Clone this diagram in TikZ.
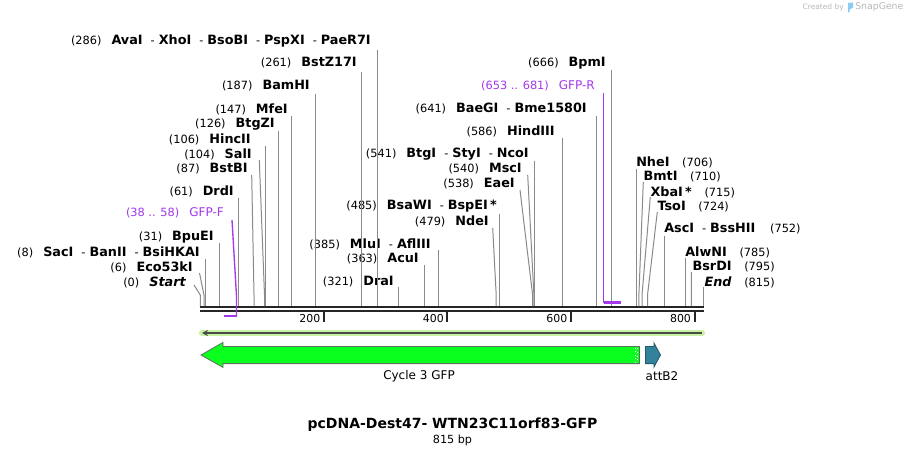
\documentclass[tikz,border=0pt]{standalone}
\usepackage{fontspec}
\setmainfont{DejaVu Sans}
\usetikzlibrary{arrows.meta,calc}
\definecolor{sitegray}{HTML}{8A8A8A}
\definecolor{barblack}{HTML}{262626}
\definecolor{primerviolet}{HTML}{A338EC}
\definecolor{glowgreen}{HTML}{C8F2A2}
\definecolor{strandgray}{HTML}{4A4A4A}
\definecolor{gfpgreen}{HTML}{0AFF1E}
\definecolor{gfpedge}{HTML}{5E705E}
\definecolor{attteal}{HTML}{31829A}
\definecolor{attedge}{HTML}{24596B}
\definecolor{creditgray}{HTML}{B8B8B8}
\definecolor{logoblue}{HTML}{8CCBF2}

\newcommand{\pos}[1]{{\fontsize{8.5}{9}\selectfont(#1)}}
\newcommand{\enz}[1]{{\fontsize{9.6}{11}\selectfont\bfseries #1}}
\newcommand{\oligoname}[1]{{\fontsize{9}{10}\selectfont #1}}
\newcommand{\numgap}{\hspace{7.5pt}}
\newcommand{\sitesep}{\hspace{6pt}{\fontsize{8.5}{9}\selectfont -}\hspace{3pt}}

\begin{document}
\begin{tikzpicture}[
		x=0.75pt, y=-0.75pt,
		>=Stealth,
		lbl/.style={inner sep=0pt, anchor=east},
		rlbl/.style={inner sep=0pt, anchor=west},
		oligo/.style={inner sep=0pt, anchor=east, text=primerviolet},
		cut/.style={draw=sitegray, line width=0.75pt},
		primer/.style={draw=primerviolet, line width=1pt},
		tick/.style={draw=barblack, line width=1.5pt},
		ticklbl/.style={inner sep=0pt, anchor=east, font=\fontsize{8.2}{9}\selectfont},
	]

	\fill[white] (0,0) rectangle (906,456);
	\useasboundingbox (0,0) rectangle (906,456);

	% sequence map
	\coordinate (mapstart) at (200.3,306);
	\coordinate (mapend) at (703.7,306);
	\draw[barblack, line width=1.9pt] ([shift={(0,1.2)}]mapstart) -- ([shift={(0,1.2)}]mapend);
	\draw[barblack, line width=1.9pt] ([shift={(0,5.2)}]mapstart) -- ([shift={(0,5.2)}]mapend);

	\draw[tick] (323.8,312) -- (323.8,322);
	\draw[tick] (447.4,312) -- (447.4,322);
	\draw[tick] (570.9,312) -- (570.9,322);
	\draw[tick] (694.5,312) -- (694.5,322);
	\node[ticklbl] (t200) at (320.5,318.5) {200};
	\node[ticklbl] (t400) at (444.1,318.5) {400};
	\node[ticklbl] (t600) at (567.6,318.5) {600};
	\node[ticklbl] (t800) at (691.2,318.5) {800};

	% cut sites on the map
	\coordinate (c0) at (200.3,306);
	\coordinate (c6) at (204.0,306);
	\coordinate (c8) at (205.2,306);
	\coordinate (c31) at (219.5,306);
	\coordinate (c61) at (238.0,306);
	\coordinate (c87) at (254.0,306);
	\coordinate (c104) at (264.5,306);
	\coordinate (c106) at (265.8,306);
	\coordinate (c126) at (278.1,306);
	\coordinate (c147) at (291.1,306);
	\coordinate (c187) at (315.8,306);
	\coordinate (c261) at (361.5,306);
	\coordinate (c286) at (377.0,306);
	\coordinate (c321) at (398.6,306);
	\coordinate (c363) at (424.5,306);
	\coordinate (c385) at (438.1,306);
	\coordinate (c479) at (496.2,306);
	\coordinate (c485) at (499.9,306);
	\coordinate (c538) at (532.6,306);
	\coordinate (c540) at (533.9,306);
	\coordinate (c541) at (534.5,306);
	\coordinate (c586) at (562.3,306);
	\coordinate (c641) at (596.2,306);
	\coordinate (c666) at (611.7,306);
	\coordinate (c706) at (636.4,306);
	\coordinate (c710) at (638.9,306);
	\coordinate (c715) at (642.0,306);
	\coordinate (c724) at (647.5,306);
	\coordinate (c752) at (664.8,306);
	\coordinate (c785) at (685.2,306);
	\coordinate (c795) at (691.4,306);
	\coordinate (c815) at (703.7,306);

	% left labels
	\node[lbl] (start) at (186,282) {\pos{0}\numgap\enz{\itshape Start}};
	\node[lbl] (eco53ki) at (193,267) {\pos{6}\numgap\enz{Eco53kI}};
	\node[lbl] (saci) at (200,252) {\pos{8}\numgap\enz{SacI}\sitesep\enz{BanII}\sitesep\enz{BsiHKAI}};
	\node[lbl] (bpuei) at (214,237) {\pos{31}\numgap\enz{BpuEI}};
	\node[oligo] (gfpf) at (224,213) {\pos{38 .. 58}\numgap\oligoname{GFP-F}};
	\node[lbl] (drdi) at (234,191) {\pos{61}\numgap\enz{DrdI}};
	\node[lbl] (bstbi) at (248,169) {\pos{87}\numgap\enz{BstBI}};
	\node[lbl] (sali) at (252,154) {\pos{104}\numgap\enz{SalI}};
	\node[lbl] (hincii) at (251,139) {\pos{106}\numgap\enz{HincII}};
	\node[lbl] (btgzi) at (275,124) {\pos{126}\numgap\enz{BtgZI}};
	\node[lbl] (mfei) at (288,109) {\pos{147}\numgap\enz{MfeI}};
	\node[lbl] (bamhi) at (310,86) {\pos{187}\numgap\enz{BamHI}};
	\node[lbl] (bstz17i) at (357,63) {\pos{261}\numgap\enz{BstZ17I}};
	\node[lbl] (avai) at (371,41) {\pos{286}\numgap\enz{AvaI}\sitesep\enz{XhoI}\sitesep\enz{BsoBI}\sitesep\enz{PspXI}\sitesep\enz{PaeR7I}};

	% middle labels
	\node[lbl] (drai) at (394,282) {\pos{321}\numgap\enz{DraI}};
	\node[lbl] (acui) at (419,259) {\pos{363}\numgap\enz{AcuI}};
	\node[lbl] (mlui) at (431,244) {\pos{385}\numgap\enz{MluI}\sitesep\enz{AflIII}};
	\node[lbl] (ndei) at (489,221) {\pos{479}\numgap\enz{NdeI}};
	\node[lbl] (bsawi) at (497,206) {\pos{485}\numgap\enz{BsaWI}\sitesep\enz{BspEI\,*}};
	\node[lbl] (eaei) at (515,184) {\pos{538}\numgap\enz{EaeI}};
	\node[lbl] (msci) at (522,169) {\pos{540}\numgap\enz{MscI}};
	\node[lbl] (btgi) at (529,154) {\pos{541}\numgap\enz{BtgI}\sitesep\enz{StyI}\sitesep\enz{NcoI}};
	\node[lbl] (hindiii) at (555,131) {\pos{586}\numgap\enz{HindIII}};
	\node[lbl] (baegi) at (587,108) {\pos{641}\numgap\enz{BaeGI}\sitesep\enz{Bme1580I}};
	\node[oligo] (gfpr) at (595,86) {\pos{653 .. 681}\numgap\oligoname{GFP-R}};
	\node[lbl] (bpmi) at (606,63) {\pos{666}\numgap\enz{BpmI}};

	% right labels
	\node[rlbl] (nhei) at (636,162) {\enz{NheI}\hspace{9.5pt}\pos{706}};
	\node[rlbl] (bmti) at (643.3,177) {\enz{BmtI}\hspace{9.5pt}\pos{710}};
	\node[rlbl] (xbai) at (650.3,192) {\enz{XbaI\,*}\hspace{9.5pt}\pos{715}};
	\node[rlbl] (tsoi) at (657.3,207) {\enz{TsoI}\hspace{9.5pt}\pos{724}};
	\node[rlbl] (asci) at (664,229) {\enz{AscI}\sitesep\enz{BssHII}\hspace{11pt}\pos{752}};
	\node[rlbl] (alwni) at (685,252) {\enz{AlwNI}\hspace{9.5pt}\pos{785}};
	\node[rlbl] (bsrdi) at (692.3,267) {\enz{BsrDI}\hspace{9.5pt}\pos{795}};
	\node[rlbl] (endsite) at (704.3,282) {\enz{\itshape End}\hspace{9.5pt}\pos{815}};

	% site lines
	\draw[cut] ([shift={(8,3)}]start.east) -- ([shift={(0,-11)}]c0) -- (c0);
	\draw[cut] ([shift={(6.5,6)}]eco53ki.east) -- ([shift={(0,-11)}]c6) -- (c6);
	\draw[cut] ([shift={(5.2,7)}]saci.east) -- (c8);
	\draw[cut] ([shift={(5.5,6)}]bpuei.east) -- (c31);
	\draw[cut] ([shift={(4,7)}]drdi.east) -- (c61);
	\draw[cut] ([shift={(3.7,6)}]bstbi.east) -- ([shift={(0,-11)}]c87) -- (c87);
	\draw[cut] ([shift={(7.3,6)}]sali.east) -- ([shift={(0,-11)}]c104) -- (c104);
	\draw[cut] ([shift={(14.8,7)}]hincii.east) -- (c106);
	\draw[cut] ([shift={(3.1,7)}]btgzi.east) -- (c126);
	\draw[cut] ([shift={(3.1,7)}]mfei.east) -- (c147);
	\draw[cut] ([shift={(5.8,8)}]bamhi.east) -- (c187);
	\draw[cut] ([shift={(4.5,9)}]bstz17i.east) -- (c261);
	\draw[cut] ([shift={(6,9)}]avai.east) -- (c286);

	\draw[cut] ([shift={(4.6,5)}]drai.east) -- (c321);
	\draw[cut] ([shift={(5.5,6)}]acui.east) -- (c363);
	\draw[cut] ([shift={(7.1,6)}]mlui.east) -- (c385);
	\draw[cut] ([shift={(3.7,7)}]ndei.east) -- ([shift={(0,-11)}]c479) -- (c479);
	\draw[cut] ([shift={(2.9,8)}]bsawi.east) -- (c485);
	\draw[cut] ([shift={(5,6)}]eaei.east) -- ([shift={(0,-11)}]c538) -- (c538);
	\draw[cut] ([shift={(5.7,6)}]msci.east) -- ([shift={(0,-11)}]c540) -- (c540);
	\draw[cut] ([shift={(5.5,7)}]btgi.east) -- (c541);
	\draw[cut] ([shift={(7.3,7)}]hindiii.east) -- (c586);
	\draw[cut] ([shift={(9.2,8)}]baegi.east) -- (c641);
	\draw[cut] ([shift={(5.7,7)}]bpmi.east) -- (c666);

	\draw[cut] ([shift={(0.4,7)}]nhei.west) -- (c706);
	\draw[cut] ([shift={(0,5)}]bmti.west) -- ([shift={(0,-11)}]c710) -- (c710);
	\draw[cut] ([shift={(0,5)}]xbai.west) -- ([shift={(0,-11)}]c715) -- (c715);
	\draw[cut] ([shift={(0,5)}]tsoi.west) -- ([shift={(0,-11)}]c724) -- (c724);
	\draw[cut] ([shift={(0.8,7)}]asci.west) -- (c752);
	\draw[cut] ([shift={(0.2,6)}]alwni.west) -- (c785);
	\draw[cut] ([shift={(-0.9,5)}]bsrdi.west) -- ([shift={(0,-11)}]c795) -- (c795);
	\draw[cut] ([shift={(-0.6,5)}]endsite.west) -- (c815);

	% primers
	\coordinate (p38) at (223.8,316);
	\coordinate (p58) at (236.5,316);
	\coordinate (p653) at (603.7,302.5);
	\coordinate (p681) at (621.0,302.5);
	\draw[primer, line width=1.9pt] (p38) -- (p58);
	\draw[primer] ([shift={(8,7)}]gfpf.east) -- ([shift={(0,-20)}]p58) -- (p58);
	\draw[primer, line width=1.9pt] (p653) -- (p681);
	\draw[primer] ([shift={(8.7,7)}]gfpr.east) -- (p653);

	% strand and features
	\coordinate (strandleft) at (202,333);
	\coordinate (strandright) at (702,333);
	\draw[glowgreen, line width=4.6pt, line cap=round] (strandleft) -- (strandright);
	\draw[strandgray, line width=1.1pt, {Stealth[length=4.5pt, width=4.5pt]}-] (strandleft) -- (strandright);

	\draw[gfpedge, fill=gfpgreen, line width=0.6pt]
	(639.5,346.5) -- (223,346.5) -- (223,342.4) -- (201,355) -- (223,367.4)
	-- (223,363.6) -- (639.5,363.6) -- cycle;
	\draw[white, dotted, line width=0.7pt] (635.3,347.6) -- (635.3,362.6);
	\draw[white, dotted, line width=0.7pt] (637.6,348.4) -- (637.6,362.6);
	\draw[attedge, fill=attteal, line width=0.6pt]
	(645.5,346.5) -- (654,346.5) -- (654,343) -- (660.5,355) -- (654,367)
	-- (654,363.6) -- (645.5,363.6) -- cycle;

	\node[font=\fontsize{9}{10}\selectfont] (gfplbl) at (419,376) {Cycle 3 GFP};
	\node[font=\fontsize{9}{10}\selectfont] (attlbl) at (662,376) {attB2};

	% title
	\node[font=\fontsize{10.5}{12}\selectfont\bfseries] (title) at (452.5,425) {pcDNA-Dest47- WTN23C11orf83-GFP};
	\node[font=\fontsize{8.4}{10}\selectfont] (length) at (452.5,440) {815 bp};

	% credit
	\node[inner sep=0pt, anchor=east, text=creditgray, font=\fontsize{5.6}{6}\selectfont] (credit) at (844,7.5) {Created by};
	\fill[logoblue] (848,3) -- (853,2.5) -- (853,8) -- (850,9) -- (849.5,12) -- (848,12.5) -- cycle;
	\node[inner sep=0pt, anchor=west, text=creditgray, font=\fontsize{7}{8}\selectfont] (snapgene) at (855,7.5) {SnapGene};

\end{tikzpicture}
\end{document}
